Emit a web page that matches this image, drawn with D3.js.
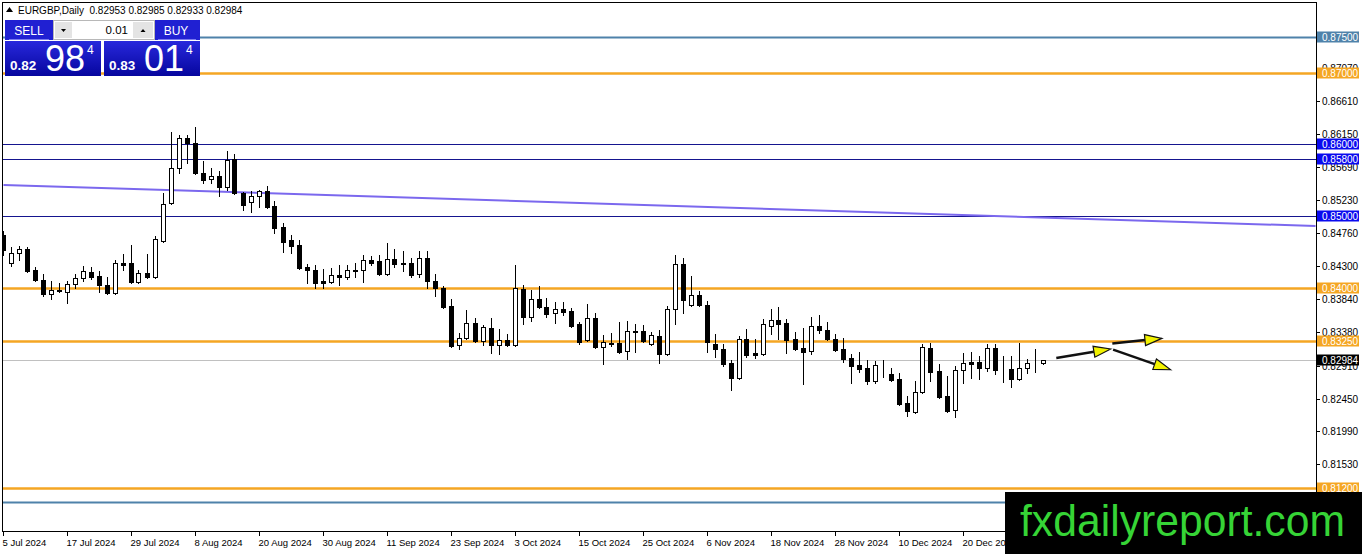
<!DOCTYPE html>
<html>
<head>
<meta charset="utf-8">
<script src="https://cdn.jsdelivr.net/npm/d3@7"></script>
<style>
  html, body { margin: 0; padding: 0; background: #fff; }
  svg { display: block; }
</style>
</head>
<body>
<div id="chart"></div>
<script>
// Daily EURGBP candles, 5 Jul 2024 onwards: [open, high, low, close]
const ohlc = [
  [0.84728,0.84784,0.84448,0.84518],[0.84350,0.84560,0.84308,0.84476],[0.84476,0.84574,0.84378,0.84532],
  [0.84532,0.84560,0.84224,0.84238],[0.84252,0.84294,0.84098,0.84112],[0.84112,0.84196,0.83888,0.83916],
  [0.83916,0.84098,0.83846,0.83972],[0.83972,0.84070,0.83944,0.83958],[0.83944,0.84098,0.83790,0.84056],
  [0.84056,0.84196,0.84000,0.84140],[0.84140,0.84308,0.84098,0.84238],[0.84224,0.84294,0.84126,0.84154],
  [0.84168,0.84238,0.83944,0.84042],[0.84042,0.84154,0.83916,0.83930],[0.83930,0.84378,0.83916,0.84350],
  [0.84350,0.84462,0.84252,0.84322],[0.84350,0.84588,0.84070,0.84084],[0.84084,0.84252,0.84070,0.84210],
  [0.84210,0.84462,0.84140,0.84154],[0.84154,0.84714,0.84140,0.84672],[0.84644,0.85316,0.84630,0.85162],
  [0.85176,0.86170,0.85162,0.85666],[0.85666,0.86128,0.85596,0.86086],[0.86086,0.86128,0.85736,0.86016],
  [0.86016,0.86240,0.85582,0.85596],[0.85596,0.85764,0.85456,0.85498],[0.85512,0.85666,0.85456,0.85554],
  [0.85554,0.85624,0.85274,0.85400],[0.85400,0.85904,0.85358,0.85778],[0.85792,0.85862,0.85302,0.85316],
  [0.85316,0.85330,0.85078,0.85148],[0.85190,0.85344,0.85050,0.85274],[0.85274,0.85358,0.85120,0.85344],
  [0.85344,0.85414,0.85106,0.85120],[0.85134,0.85204,0.84756,0.84826],[0.84840,0.84896,0.84490,0.84630],
  [0.84658,0.84728,0.84476,0.84574],[0.84588,0.84658,0.84266,0.84280],[0.84294,0.84336,0.84070,0.84252],
  [0.84252,0.84322,0.84000,0.84070],[0.84098,0.84266,0.84000,0.84070],[0.84084,0.84280,0.84070,0.84182],
  [0.84182,0.84322,0.84042,0.84154],[0.84154,0.84322,0.84126,0.84252],[0.84252,0.84350,0.84154,0.84238],
  [0.84252,0.84448,0.84084,0.84378],[0.84378,0.84434,0.84322,0.84350],[0.84364,0.84448,0.84182,0.84196],
  [0.84196,0.84616,0.84182,0.84392],[0.84392,0.84532,0.84294,0.84336],[0.84350,0.84504,0.84238,0.84336],
  [0.84350,0.84406,0.84154,0.84182],[0.84196,0.84504,0.84154,0.84406],[0.84406,0.84504,0.84000,0.84098],
  [0.84098,0.84196,0.83888,0.84000],[0.84000,0.84028,0.83720,0.83734],[0.83748,0.83846,0.83174,0.83188],
  [0.83202,0.83370,0.83146,0.83300],[0.83300,0.83692,0.83286,0.83510],[0.83510,0.83580,0.83244,0.83258],
  [0.83258,0.83482,0.83202,0.83454],[0.83440,0.83580,0.83090,0.83202],[0.83202,0.83426,0.83076,0.83272],
  [0.83272,0.83356,0.83188,0.83202],[0.83202,0.84322,0.83188,0.84000],[0.83986,0.84042,0.83496,0.83594],
  [0.83594,0.83972,0.83538,0.83846],[0.83846,0.84028,0.83720,0.83734],[0.83734,0.83860,0.83594,0.83636],
  [0.83650,0.83804,0.83510,0.83706],[0.83706,0.83804,0.83622,0.83664],[0.83678,0.83720,0.83454,0.83468],
  [0.83496,0.83524,0.83216,0.83244],[0.83272,0.83776,0.83258,0.83580],[0.83580,0.83650,0.83160,0.83174],
  [0.83174,0.83342,0.82936,0.83244],[0.83216,0.83370,0.83188,0.83230],[0.83230,0.83524,0.83090,0.83104],
  [0.83118,0.83538,0.83006,0.83398],[0.83398,0.83496,0.83104,0.83384],[0.83398,0.83482,0.83244,0.83258],
  [0.83216,0.83384,0.83202,0.83342],[0.83328,0.83412,0.82950,0.83076],[0.83076,0.83748,0.83062,0.83706],
  [0.83706,0.84448,0.83496,0.84336],[0.84336,0.84406,0.83650,0.83832],[0.83762,0.84168,0.83748,0.83902],
  [0.83902,0.83958,0.83748,0.83762],[0.83762,0.83818,0.83104,0.83244],[0.83216,0.83356,0.83034,0.83146],
  [0.83146,0.83216,0.82908,0.82936],[0.82950,0.82992,0.82572,0.82740],[0.82740,0.83328,0.82726,0.83286],
  [0.83286,0.83426,0.83034,0.83062],[0.83090,0.83286,0.83020,0.83062],[0.83076,0.83566,0.83062,0.83496],
  [0.83468,0.83706,0.83356,0.83552],[0.83552,0.83734,0.83286,0.83496],[0.83510,0.83566,0.83090,0.83272],
  [0.83286,0.83384,0.83132,0.83146],[0.83160,0.83440,0.82656,0.83104],[0.83118,0.83594,0.83076,0.83468],
  [0.83468,0.83622,0.83370,0.83412],[0.83412,0.83524,0.83272,0.83286],[0.83286,0.83356,0.83118,0.83132],
  [0.83146,0.83300,0.82964,0.83006],[0.83020,0.83076,0.82670,0.82908],[0.82922,0.83104,0.82824,0.82866],
  [0.82880,0.82992,0.82656,0.82698],[0.82698,0.82978,0.82670,0.82922],[0.82922,0.82992,0.82754,0.82922],
  [0.82796,0.82880,0.82698,0.82712],[0.82726,0.82810,0.82362,0.82376],[0.82390,0.82488,0.82208,0.82278],
  [0.82264,0.82698,0.82250,0.82544],[0.82544,0.83216,0.82530,0.83174],[0.83160,0.83230,0.82698,0.82824],
  [0.82838,0.82936,0.82460,0.82474],[0.82488,0.82768,0.82264,0.82278],[0.82292,0.82908,0.82194,0.82852],
  [0.82852,0.83090,0.82670,0.82950],[0.82964,0.83104,0.82740,0.82936],[0.82964,0.83048,0.82726,0.82880],
  [0.82880,0.83216,0.82838,0.83160],[0.83160,0.83216,0.82796,0.82852],[0.82866,0.83048,0.82684,0.82866],
  [0.82866,0.83048,0.82614,0.82726],[0.82726,0.83230,0.82712,0.82880],[0.82880,0.83006,0.82810,0.82950],
  [0.82950,0.83146,0.82824,0.82950],[0.82953,0.82985,0.82933,0.82984]
];

// one label every 8 bars
const dateLabels = ["5 Jul 2024", "17 Jul 2024", "29 Jul 2024", "8 Aug 2024", "20 Aug 2024", "30 Aug 2024",
  "11 Sep 2024", "23 Sep 2024", "3 Oct 2024", "15 Oct 2024", "25 Oct 2024", "6 Nov 2024", "18 Nov 2024",
  "28 Nov 2024", "10 Dec 2024", "20 Dec 2024"];
const labelStep = 8;

const priceTicks = ["0.87070", "0.86610", "0.86150", "0.85690", "0.85230", "0.84760", "0.84300",
  "0.83840", "0.83380", "0.82910", "0.82450", "0.81990", "0.81530"];

// horizontal levels drawn on the chart (the last one has its label hidden under the watermark)
const levelPrices = [0.875, 0.870, 0.860, 0.858, 0.850, 0.840, 0.8325, 0.812, 0.810];
const levelColors = ["#4f82aa", "#f5a623", "#15158f", "#15158f", "#15158f", "#f5a623", "#f5a623", "#f5a623", "#4f82aa"];
const levelLabelColors = ["#4f82aa", "#f5a623", "#0a0aef", "#0a0aef", "#0a0aef", "#f5a623", "#f5a623", "#f5a623", null];
const levelWidths = [2, 2.5, 1, 1, 1, 2.5, 2.5, 2.5, 2];

const bidPrice = 0.82984;
const headerValues = ["0.82953", "0.82985", "0.82933", "0.82984"];

// descending trend line: [bar index, price]
const trendLine = [[0, 0.85433], [164, 0.84860]];

// forecast arrows: [[bar, price] start, [bar, price] tip]
const arrows = [
  [[131.6, 0.83016], [138.4, 0.83142]],
  [[138.6, 0.83220], [144.8, 0.83290]],
  [[138.7, 0.83132], [145.9, 0.82852]]
];

const width = 1362, height = 554;
const plotLeft = 3, plotRight = 1316, plotTop = 3, plotBottom = 532;

const x = d3.scaleLinear().domain([0, 164]).range([3.5, 1315.5]);
const y = d3.scaleLinear().domain([0.812, 0.875]).range([488, 37]);

const svg = d3.select("#chart")
  .append("svg")
  .attr("width", width)
  .attr("height", height)
  .attr("viewBox", [0, 0, width, height])
  .style("font-family", "'Liberation Sans', Arial, sans-serif");

svg.append("rect").attr("width", width).attr("height", height).attr("fill", "#fff");

svg.append("clipPath").attr("id", "plot")
  .append("rect")
  .attr("x", plotLeft).attr("y", plotTop)
  .attr("width", plotRight - plotLeft).attr("height", plotBottom - plotTop);

const plot = svg.append("g").attr("clip-path", "url(#plot)");

// bid line
plot.append("line")
  .attr("x1", plotLeft).attr("x2", plotRight)
  .attr("y1", Math.round(y(bidPrice)) + 0.5).attr("y2", Math.round(y(bidPrice)) + 0.5)
  .attr("stroke", "#c0c0c0").attr("stroke-width", 1);

// levels
plot.append("g")
  .selectAll("line")
  .data(levelPrices)
  .join("line")
    .attr("x1", plotLeft).attr("x2", plotRight)
    .attr("y1", d => Math.round(y(d)) + 0.5).attr("y2", d => Math.round(y(d)) + 0.5)
    .attr("stroke", (d, i) => levelColors[i])
    .attr("stroke-width", (d, i) => levelWidths[i]);

// trend line
plot.append("line")
  .attr("x1", x(trendLine[0][0])).attr("y1", y(trendLine[0][1]))
  .attr("x2", x(trendLine[1][0])).attr("y2", y(trendLine[1][1]))
  .attr("stroke", "#7b68ee").attr("stroke-width", 2);

// candles
const candle = plot.append("g")
  .attr("shape-rendering", "crispEdges")
  .selectAll("g")
  .data(ohlc)
  .join("g")
    .attr("transform", (d, i) => `translate(${Math.round(x(i)) - 0.5},0)`);

candle.append("line")
  .attr("y1", d => Math.round(y(d[1])))
  .attr("y2", d => Math.round(y(d[2])) + 1)
  .attr("stroke", "#000");

candle.append("rect")
  .attr("x", -2)
  .attr("width", 4)
  .attr("y", d => Math.round(y(Math.max(d[0], d[3]))) + 0.5)
  .attr("height", d => Math.max(0, Math.round(y(Math.min(d[0], d[3]))) - Math.round(y(Math.max(d[0], d[3])))))
  .attr("fill", d => d[3] >= d[0] ? "#fff" : "#000")
  .attr("stroke", "#000");

// arrows
const arrowG = plot.append("g");
arrows.forEach(([a, b]) => {
  const x1 = x(a[0]), y1 = y(a[1]), x2 = x(b[0]), y2 = y(b[1]);
  const len = Math.hypot(x2 - x1, y2 - y1);
  const ux = (x2 - x1) / len, uy = (y2 - y1) / len;
  const head = 17, half = 5.5;
  const bx = x2 - ux * head, by = y2 - uy * head;
  arrowG.append("line")
    .attr("x1", x1).attr("y1", y1).attr("x2", bx).attr("y2", by)
    .attr("stroke", "#111").attr("stroke-width", 2.5);
  arrowG.append("path")
    .attr("d", `M${x2},${y2}L${bx - uy * half},${by + ux * half}L${bx + uy * half},${by - ux * half}Z`)
    .attr("fill", "#f2f200").attr("stroke", "#111").attr("stroke-width", 1.2);
});

// frame
svg.append("rect")
  .attr("x", plotLeft - 0.5).attr("y", plotTop - 0.5)
  .attr("width", plotRight - plotLeft + 1).attr("height", plotBottom - plotTop)
  .attr("fill", "none").attr("stroke", "#000").attr("stroke-width", 1);

// price axis
const priceAxis = svg.append("g").attr("font-size", 10).attr("fill", "#000");
priceAxis.selectAll("g")
  .data(priceTicks)
  .join("g")
    .attr("transform", d => `translate(0,${Math.round(y(+d)) + 0.5})`)
    .call(g => g.append("line").attr("x1", plotRight).attr("x2", plotRight + 4).attr("stroke", "#000"))
    .call(g => g.append("text").attr("x", 1322).attr("dy", "0.35em").text(d => d));

// level labels
const levelLabel = svg.append("g").attr("font-size", 10)
  .selectAll("g")
  .data(levelPrices.filter((d, i) => levelLabelColors[i]))
  .join("g")
    .attr("transform", d => `translate(0,${Math.round(y(d))})`);
levelLabel.append("rect")
  .attr("x", 1317).attr("y", -5.5).attr("width", 42).attr("height", 11)
  .attr("fill", (d, i) => levelLabelColors[i]);
levelLabel.append("text")
  .attr("x", 1322).attr("dy", "0.35em").attr("fill", "#fff")
  .text(d => d.toFixed(5));

// bid label
const bidLabel = svg.append("g").attr("transform", `translate(0,${Math.round(y(bidPrice))})`);
bidLabel.append("rect").attr("x", 1317).attr("y", -5.5).attr("width", 42).attr("height", 11).attr("fill", "#000");
bidLabel.append("text").attr("x", 1322).attr("dy", "0.35em").attr("font-size", 10).attr("fill", "#fff")
  .text(bidPrice.toFixed(5));

// time axis
svg.append("g")
  .attr("font-size", 9.5)
  .selectAll("g")
  .data(dateLabels)
  .join("g")
    .attr("transform", (d, i) => `translate(${Math.round(x(i * labelStep)) - 0.5},${plotBottom})`)
    .call(g => g.append("line").attr("y1", 0).attr("y2", 4).attr("stroke", "#000"))
    .call(g => g.append("text").attr("x", -1).attr("y", 14).text(d => d));

// header
svg.append("path").attr("d", "M6,12L9.5,7L13,12Z").attr("fill", "#000");
svg.append("text")
  .attr("x", 18).attr("y", 14).attr("font-size", 10)
  .attr("xml:space", "preserve")
  .text("EURGBP,Daily  " + headerValues.join(" "));

// one-click trading panel
const defs = svg.append("defs");
const grad = defs.append("linearGradient").attr("id", "pricePanel").attr("x1", 0).attr("x2", 0).attr("y1", 0).attr("y2", 1);
grad.append("stop").attr("offset", "0%").attr("stop-color", "#2828dc");
grad.append("stop").attr("offset", "100%").attr("stop-color", "#06069e");

const panel = svg.append("g");
panel.append("rect").attr("x", 5).attr("y", 20).attr("width", 48).attr("height", 20).attr("fill", "#2020d2");
panel.append("rect").attr("x", 155).attr("y", 20).attr("width", 45).attr("height", 20).attr("fill", "#2020d2");
panel.append("line").attr("x1", 9).attr("x2", 49).attr("y1", 39.5).attr("y2", 39.5).attr("stroke", "#7a7aee");
panel.append("line").attr("x1", 158).attr("x2", 196).attr("y1", 39.5).attr("y2", 39.5).attr("stroke", "#7a7aee");
panel.append("text").attr("x", 29).attr("y", 35).attr("text-anchor", "middle").attr("font-size", 12)
  .attr("fill", "#fff").text("SELL");
panel.append("text").attr("x", 176).attr("y", 35).attr("text-anchor", "middle").attr("font-size", 12)
  .attr("fill", "#fff").text("BUY");

panel.append("rect").attr("x", 53.5).attr("y", 20.5).attr("width", 101).attr("height", 19)
  .attr("fill", "#fff").attr("stroke", "#b8b8b8");
panel.append("rect").attr("x", 55).attr("y", 22).attr("width", 17).attr("height", 16).attr("fill", "#e4e4e4");
panel.append("rect").attr("x", 133).attr("y", 22).attr("width", 20).attr("height", 16).attr("fill", "#e4e4e4");
panel.append("path").attr("d", "M61,29L66,29L63.5,32Z").attr("fill", "#000");
panel.append("path").attr("d", "M140.5,32L145.5,32L143,29Z").attr("fill", "#000");
panel.append("text").attr("x", 128).attr("y", 34).attr("text-anchor", "end").attr("font-size", 11.5)
  .attr("fill", "#000").text("0.01");

const quotes = [
  { x0: 5, big: "98", small: "0.82", pip: "4" },
  { x0: 104, big: "01", small: "0.83", pip: "4" }
];
quotes.forEach(q => {
  panel.append("rect").attr("x", q.x0).attr("y", 41).attr("width", 96).attr("height", 35)
    .attr("fill", "url(#pricePanel)");
  panel.append("text").attr("x", q.x0 + 5).attr("y", 70).attr("font-size", 13.5).attr("font-weight", "bold")
    .attr("fill", "#fff").text(q.small);
  panel.append("text").attr("x", q.x0 + 40).attr("y", 71).attr("font-size", 36)
    .attr("fill", "#fff").text(q.big);
  panel.append("text").attr("x", q.x0 + 82).attr("y", 54).attr("font-size", 12)
    .attr("fill", "#fff").text(q.pip);
});

// watermark
svg.append("rect").attr("x", 1005).attr("y", 492).attr("width", 357).attr("height", 62).attr("fill", "#000");
svg.append("text")
  .attr("x", 1020).attr("y", 536)
  .attr("font-size", 44)
  .attr("textLength", 325).attr("lengthAdjust", "spacingAndGlyphs")
  .attr("fill", "#36d436")
  .text("fxdailyreport.com");
</script>
</body>
</html>
